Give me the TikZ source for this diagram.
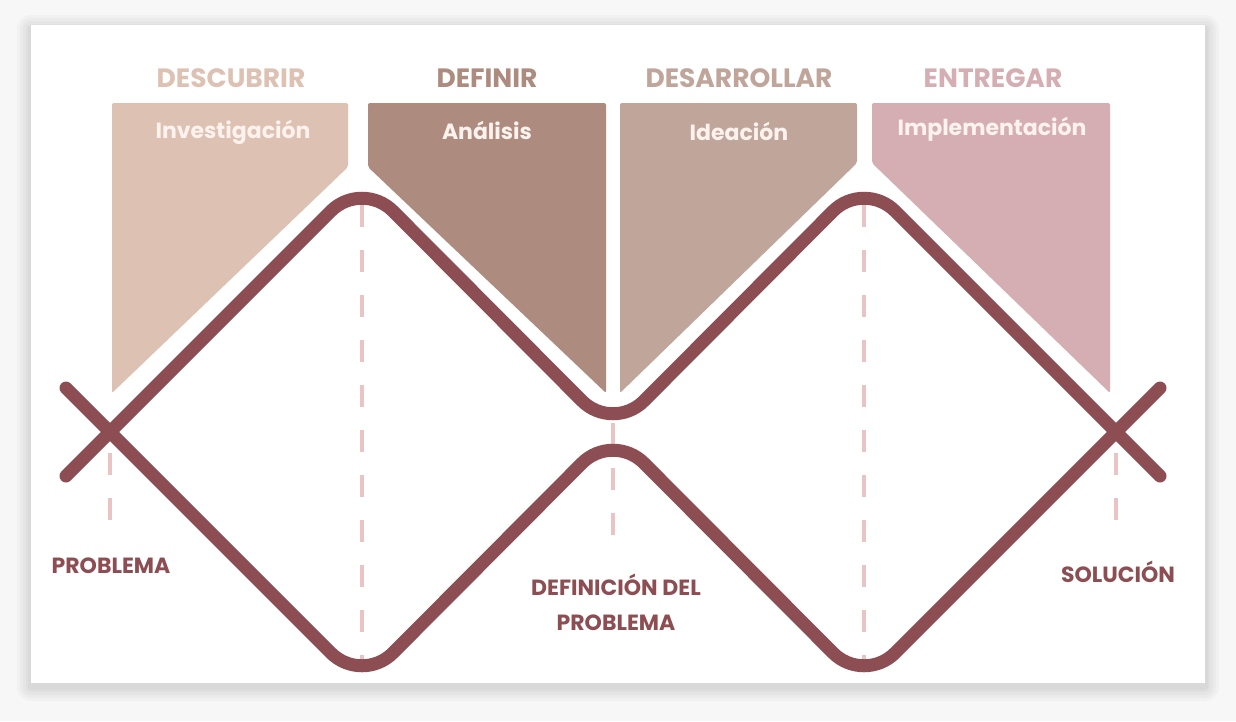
\documentclass[tikz,border=0pt]{standalone}
\usepackage{fontspec}
\setmainfont{Poppins}
\definecolor{wine}{RGB}{140,78,82}
\definecolor{dashpink}{RGB}{234,196,196}
\definecolor{sand}{RGB}{221,193,179}
\definecolor{taupe}{RGB}{173,140,127}
\definecolor{mauve}{RGB}{192,165,155}
\definecolor{rosa}{RGB}{212,174,178}
\definecolor{paper}{RGB}{247,247,247}
\definecolor{cream}{RGB}{253,242,238}
\begin{document}
\begin{tikzpicture}[x=1pt,y=-1pt,
		phase/.style={font=\fontsize{26.5}{28}\selectfont\bfseries},
		inner/.style={text=cream,font=\fontsize{22}{24}\selectfont\bfseries},
		endlabel/.style={text=wine,font=\fontsize{22}{35}\selectfont\bfseries,align=center},
		guide/.style={dashpink,line width=4pt,dash pattern=on 22pt off 23pt},
		track/.style={wine,line width=13pt,rounded corners=44pt,line cap=round}]
		\useasboundingbox (0,0) rectangle (1236,721);
		\fill [paper] (0,0) rectangle (1236,721);
		% card with soft shadow
		\foreach \s in {14,11,8,5,3}
			\fill [black,opacity=0.022,rounded corners=\s pt] (31-\s,25-\s+4) rectangle (1205+\s,683+\s+4);
		\fill [white] (31,25) rectangle (1205,683);
		
		% phase boxes
		\fill [sand,rounded corners=2pt] (112,103) -- (348,103) -- (348,167) -- (112,393) -- cycle;
		\fill [taupe,rounded corners=2pt] (368,103) -- (606,103) -- (606,393) -- (368,167) -- cycle;
		\fill [mauve,rounded corners=2pt] (620,103) -- (857,103) -- (857,163) -- (620,393) -- cycle;
		\fill [rosa,rounded corners=2pt] (872,103) -- (1110,103) -- (1110,393) -- (872,163) -- cycle;
		\node [phase,text=sand] (descubrir) at (231,78) {DESCUBRIR};
		\node [phase,text=taupe] (definir) at (487,78) {DEFINIR};
		\node [phase,text=mauve] (desarrollar) at (739,78) {DESARROLLAR};
		\node [phase,text=rosa] (entregar) at (993,78) {ENTREGAR};
		\node [inner] (investigacion) at (233,132) {Investigación};
		\node [inner] (analisis) at (487,130) {Análisis};
		\node [inner] (ideacion) at (739,131) {Ideación};
		\node [inner] (implementacion) at (992,129) {Implementación};
		
		% guides
		\draw [guide] (110,453) -- (110,522);
		\draw [guide] (362,205) -- (362,662);
		\draw [guide] (613,423) -- (613,537);
		\draw [guide] (864,205) -- (864,662);
		\draw [guide] (1116,453) -- (1116,522);
		
		% double diamond
		\coordinate (upA) at (66,388);
		\coordinate (upB) at (66,476);
		\coordinate (endA) at (1160,388);
		\coordinate (endB) at (1160,476);
		\draw [track] (upA) -- (362,684) -- (613,432) -- (864,684) -- (endA);
		\draw [track] (upB) -- (362,180) -- (613,432) -- (864,180) -- (endB);
		
		\node [endlabel] (problema) at (111,566) {PROBLEMA};
		\node [endlabel] (definicion) at (616,602) {DEFINICIÓN DEL\\PROBLEMA};
		\node [endlabel] (solucion) at (1118,572) {SOLUCIÓN};
	\end{tikzpicture}
\end{document}
